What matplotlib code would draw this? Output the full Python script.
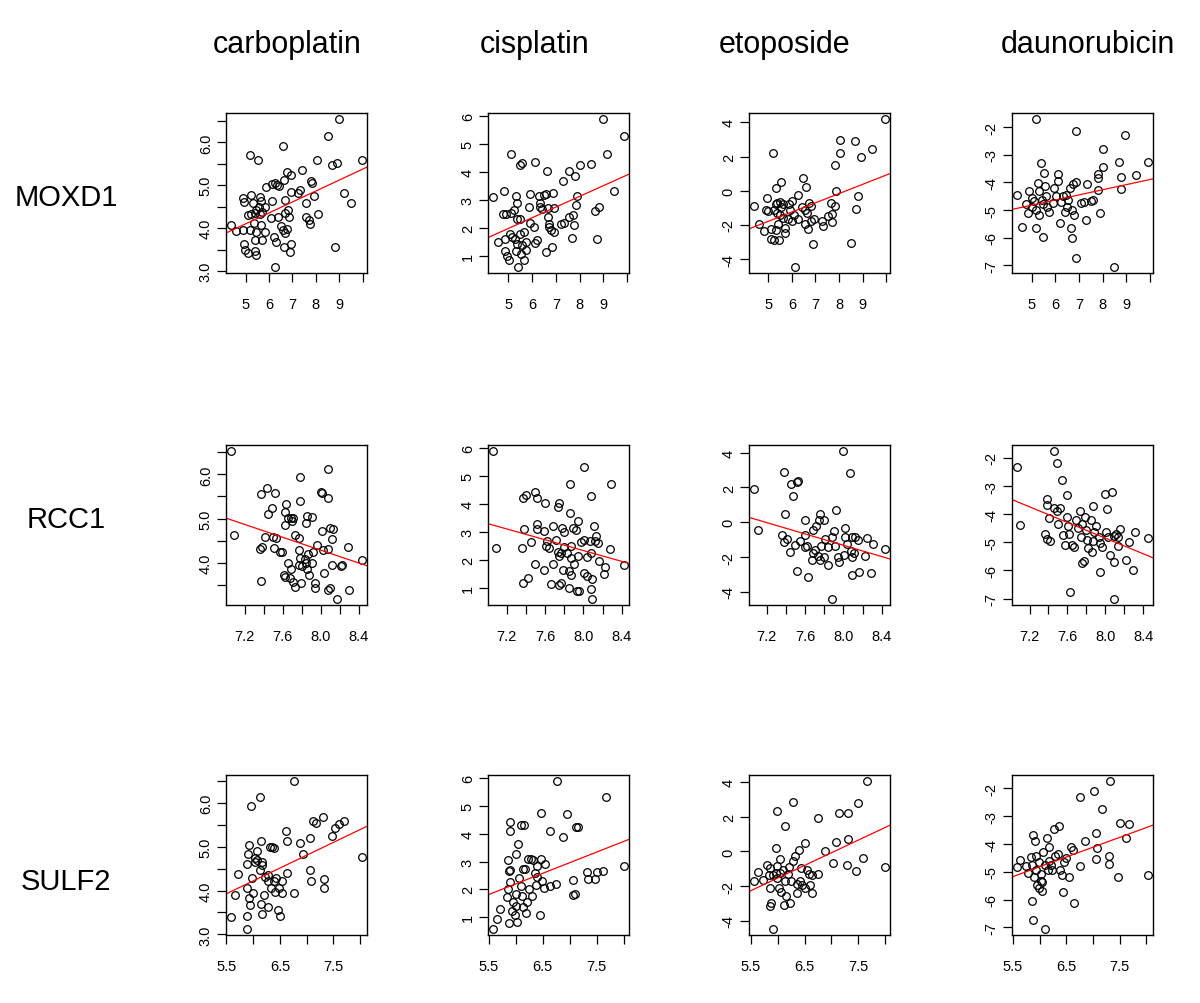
"""Scatter grid: gene expression (MOXD1, RCC1, SULF2) vs. drug sensitivity,
with the linear fit drawn in red, in the look of an R base-graphics figure.
"""

import matplotlib
matplotlib.use("Agg")
import matplotlib.pyplot as plt
import numpy as np

plt.rcParams["font.family"] = ["Liberation Sans", "DejaVu Sans"]

GENES = ["MOXD1", "RCC1", "SULF2"]
DRUGS = ["carboplatin", "cisplatin", "etoposide", "daunorubicin"]

# x ticks per gene row (label only where the picture shows one)
GENE_XTICKS = [[5, 6, 7, 8, 9, 10], [7.2, 7.4, 7.6, 7.8, 8.0, 8.2, 8.4],
               [5.5, 6.0, 6.5, 7.0, 7.5, 8.0]]
GENE_XLABELS = [["5", "6", "7", "8", "9", ""],
                ["7.2", "", "7.6", "", "8.0", "", "8.4"],
                ["5.5", "", "6.5", "", "7.5", ""]]
# y ticks per drug column
DRUG_YTICKS = [[3.0, 3.5, 4.0, 4.5, 5.0, 5.5, 6.0, 6.5], [1, 2, 3, 4, 5, 6],
               [-4, -2, 0, 2, 4], [-7, -6, -5, -4, -3, -2]]
DRUG_YLABELS = [["3.0", "", "4.0", "", "5.0", "", "6.0", ""],
                ["1", "2", "3", "4", "5", "6"],
                ["-4", "-2", "0", "2", "4"],
                ["-7", "-6", "-5", "-4", "-3", "-2"]]

# fitted lines (slope, intercept), rows = genes
FIT_SLOPE = [[0.256, 0.383, 0.543, 0.186],
             [-0.728, -0.966, -1.63, -1.39],
             [0.588, 0.765, 1.45, 0.705]]
FIT_ICPT = [[2.818, 0.06, -4.51, -5.75],
            [10.11, 10.06, 11.72, 6.27],
            [0.694, -2.39, -10.23, -9.05]]

# (x = expression, y = drug response)
moxd1_carboplatin = np.array([
    (4.39, 4.07), (4.6, 3.93), (4.89, 3.95), (5.2, 5.71), (5.53, 5.58),
    (6.6, 5.92), (8.53, 6.16), (8.99, 6.55), (8.07, 5.58), (8.89, 5.53),
    (8.7, 5.48), (9.96, 5.58), (7.39, 5.36), (6.79, 5.3), (6.93, 5.24),
    (7.81, 5.11), (7.84, 5.06), (5.89, 4.97), (6.13, 5.03), (6.24, 5.05),
    (6.36, 5.0), (6.43, 4.98), (6.64, 5.13), (6.67, 4.66), (6.96, 4.85),
    (7.31, 4.89), (7.24, 4.83), (7.93, 4.75), (7.6, 4.58), (8.1, 4.34),
    (7.56, 4.27), (7.7, 4.2), (7.74, 4.09), (9.21, 4.81), (9.5, 4.58),
    (8.81, 3.55), (6.24, 3.09), (4.89, 4.7), (4.93, 4.62), (5.24, 4.77),
    (5.31, 4.58), (5.6, 4.73), (5.64, 4.64), (5.56, 4.5), (5.81, 4.5),
    (6.13, 4.64), (5.1, 4.3), (5.24, 4.34), (5.39, 4.36), (5.46, 4.42),
    (5.6, 4.34), (5.7, 4.38), (6.07, 4.23), (6.39, 4.27), (6.67, 4.36),
    (6.81, 4.42), (6.84, 4.27), (5.36, 4.11), (5.67, 4.07), (5.21, 3.95),
    (5.46, 3.91), (5.81, 3.91), (5.39, 3.73), (5.7, 3.72), (6.21, 3.8),
    (6.31, 3.68), (6.53, 4.05), (6.61, 3.95), (6.7, 3.89), (6.79, 3.97),
    (6.96, 3.64), (6.89, 3.45), (6.64, 3.56), (4.93, 3.64), (4.99, 3.48),
    (5.1, 3.41), (5.39, 3.47), (5.46, 3.37)])

moxd1_cisplatin = np.array([
    (4.36, 3.09), (4.58, 1.49), (4.82, 3.33), (4.79, 2.49), (4.9, 2.51),
    (5.1, 2.54), (5.24, 2.63), (5.33, 3.14), (5.38, 2.9), (5.1, 4.65),
    (5.5, 4.26), (5.57, 4.32), (6.1, 4.34), (6.63, 4.05), (5.89, 3.2),
    (6.29, 3.12), (6.49, 3.18), (6.6, 3.21), (6.86, 3.24), (6.32, 2.88),
    (6.35, 2.75), (6.42, 2.66), (5.85, 2.73), (6.91, 2.69), (5.38, 2.33),
    (5.47, 2.3), (4.87, 1.61), (5.07, 1.77), (5.14, 1.67), (5.28, 1.58),
    (5.5, 1.79), (5.67, 1.85), (5.38, 1.43), (5.57, 1.37), (5.72, 1.49),
    (4.86, 1.17), (4.93, 0.98), (5.04, 0.86), (5.33, 1.17), (5.52, 1.05),
    (5.72, 1.19), (5.42, 0.59), (5.64, 0.86), (5.92, 2.18), (6.06, 2.03),
    (6.2, 1.55), (6.13, 1.46), (6.66, 2.69), (6.66, 2.37), (6.71, 2.15),
    (6.7, 2.01), (6.78, 1.91), (6.91, 1.85), (6.6, 1.13), (6.84, 1.31),
    (7.31, 3.66), (7.55, 4.05), (7.79, 3.86), (8.02, 4.26), (8.47, 4.29),
    (7.9, 3.12), (7.83, 2.81), (7.73, 2.45), (7.55, 2.39), (7.34, 2.18),
    (7.2, 2.13), (7.76, 2.09), (7.69, 1.65), (8.64, 2.61), (8.82, 2.75),
    (8.75, 1.59), (8.97, 5.9), (9.15, 4.65), (9.43, 3.3), (9.86, 5.3)])

moxd1_etoposide = np.array([
    (4.41, -0.9), (4.61, -1.96), (4.83, -2.35), (4.93, -0.45), (4.89, -1.14),
    (5.0, -1.18), (5.21, 2.2), (5.11, -2.22), (5.11, -2.8), (5.25, -2.9),
    (5.31, -0.75), (5.39, -0.71), (5.49, -0.65), (5.25, -1.14), (5.39, -1.29),
    (5.56, -0.94), (5.63, -0.75), (5.35, 0.14), (5.54, 0.53), (5.49, -1.43),
    (5.63, -1.57), (5.42, -1.92), (5.45, -2.9), (5.35, -2.31), (5.7, -2.16),
    (5.73, -2.47), (5.87, -0.75), (5.92, -1.14), (6.0, -0.59), (6.13, -4.47),
    (5.85, -1.63), (6.27, -0.25), (6.48, 0.73), (6.58, 0.2), (6.41, -0.94),
    (6.55, -1.14), (6.66, -1.29), (6.72, -0.71), (6.8, -0.9), (6.55, -1.96),
    (6.69, -2.22), (6.83, -1.76), (6.94, -1.63), (6.9, -3.14), (7.28, -1.76),
    (7.32, -2.08), (7.51, -1.49), (7.68, -1.37), (7.7, -1.82), (7.65, -0.71),
    (7.82, -0.9), (7.85, 0.0), (7.82, 1.51), (8.03, 2.98), (8.03, 2.2),
    (8.66, 2.88), (8.92, 2.0), (9.37, 2.45), (8.8, -0.31), (8.73, -1.08),
    (8.49, -3.06), (6.1, -1.43), (6.01, -1.76), (6.27, -1.63), (9.93, 4.2)])

moxd1_daunorubicin = np.array([
    (4.39, -4.44), (4.6, -5.6), (4.89, -4.32), (4.86, -5.11), (4.77, -4.77),
    (5.0, -4.56), (5.03, -4.87), (5.17, -1.7), (5.2, -5.66), (5.31, -4.32),
    (5.28, -4.01), (5.31, -5.17), (5.38, -3.28), (5.48, -5.96), (5.52, -3.65),
    (5.56, -4.11), (5.62, -4.5), (5.42, -4.62), (5.48, -4.77), (5.1, -4.68),
    (5.17, -4.99), (5.66, -4.87), (5.73, -5.05), (5.88, -4.74), (5.95, -4.2),
    (6.09, -3.71), (6.13, -3.95), (6.02, -4.5), (6.23, -4.72), (6.19, -5.45),
    (6.33, -4.5), (6.44, -4.44), (6.51, -4.87), (6.41, -5.05), (6.55, -4.65),
    (6.61, -4.2), (6.65, -5.66), (6.69, -6.02), (6.72, -4.99), (6.79, -5.17),
    (6.75, -4.04), (6.86, -2.12), (6.89, -3.99), (6.89, -6.73), (7.08, -4.74),
    (7.22, -4.72), (7.32, -4.07), (7.29, -5.35), (7.5, -4.68), (7.6, -4.65),
    (7.78, -4.26), (7.78, -3.83), (7.82, -3.71), (7.88, -5.11), (8.02, -3.43),
    (7.99, -2.77), (8.49, -7.06), (8.7, -3.26), (8.77, -3.79), (8.77, -4.23),
    (8.95, -2.28), (9.41, -3.74), (9.9, -3.26)])

rcc1_carboplatin = np.array([
    (7.06, 6.53), (7.09, 4.63), (7.37, 3.6), (7.36, 4.32), (7.38, 4.35),
    (7.41, 4.59), (7.37, 5.55), (7.44, 5.7), (7.52, 5.57), (7.45, 5.1),
    (7.49, 5.24), (7.5, 4.59), (7.53, 4.57), (7.51, 4.33), (7.57, 4.25),
    (7.59, 4.25), (7.62, 5.16), (7.64, 5.32), (7.66, 5.02), (7.69, 5.02),
    (7.7, 4.94), (7.71, 5.02), (7.62, 4.86), (7.61, 3.73), (7.62, 3.69),
    (7.66, 4.0), (7.68, 3.65), (7.71, 3.57), (7.73, 3.45), (7.69, 3.85),
    (7.78, 5.94), (7.78, 5.4), (7.77, 4.57), (7.73, 4.64), (7.77, 4.28),
    (7.78, 4.12), (7.77, 3.96), (7.8, 3.92), (7.79, 3.55), (7.83, 4.08),
    (7.84, 4.0), (7.84, 4.9), (7.85, 5.06), (7.91, 5.04), (7.87, 4.2),
    (7.86, 3.86), (7.88, 3.73), (7.92, 4.24), (7.91, 4.0), (7.94, 3.55),
    (7.94, 3.42), (7.96, 4.41), (8.01, 4.71), (8.02, 4.28), (8.03, 3.77),
    (8.0, 5.61), (8.01, 5.57), (8.08, 5.47), (8.08, 6.13), (8.1, 4.79),
    (8.13, 4.77), (8.12, 4.53), (8.08, 4.32), (8.08, 3.39), (8.1, 3.44),
    (8.12, 3.96), (8.17, 3.18), (8.21, 3.92), (8.22, 3.94), (8.29, 4.35),
    (8.3, 3.39), (8.43, 4.06)])

rcc1_cisplatin = np.array([
    (7.06, 5.89), (7.09, 2.41), (7.36, 2.41), (7.38, 3.1), (7.37, 4.22),
    (7.4, 4.31), (7.5, 4.41), (7.52, 4.22), (7.6, 4.02), (7.37, 1.17),
    (7.42, 1.36), (7.45, 2.65), (7.5, 1.85), (7.52, 3.29), (7.52, 3.1),
    (7.59, 1.65), (7.59, 3.02), (7.62, 2.69), (7.61, 2.5), (7.64, 2.41),
    (7.66, 1.14), (7.68, 3.22), (7.68, 1.85), (7.71, 2.71), (7.73, 2.29),
    (7.73, 3.9), (7.74, 1.12), (7.75, 4.02), (7.77, 1.17), (7.78, 3.14),
    (7.77, 2.23), (7.75, 2.14), (7.79, 1.65), (7.8, 2.98), (7.8, 2.47),
    (7.83, 2.23), (7.85, 1.6), (7.85, 1.0), (7.86, 4.71), (7.86, 3.66),
    (7.87, 2.5), (7.87, 2.05), (7.87, 1.45), (7.89, 3.14), (7.92, 3.05),
    (7.9, 1.87), (7.94, 3.38), (7.93, 0.88), (7.95, 0.88), (7.94, 2.14),
    (7.97, 2.65), (8.01, 5.31), (8.01, 2.71), (8.01, 1.53), (8.04, 1.41),
    (8.04, 2.11), (8.07, 2.69), (8.08, 4.28), (8.08, 2.26), (8.09, 1.33),
    (8.08, 0.96), (8.09, 0.6), (8.11, 3.22), (8.12, 2.69), (8.13, 2.84),
    (8.15, 2.59), (8.16, 1.97), (8.21, 1.51), (8.22, 1.75), (8.28, 2.38),
    (8.29, 4.71), (8.42, 1.81)])

rcc1_etoposide = np.array([
    (7.07, 1.94), (7.11, -0.43), (7.38, 2.91), (7.45, 2.19), (7.52, 2.29),
    (7.53, 2.39), (7.47, 1.51), (7.39, 0.49), (7.36, -0.72), (7.38, -1.11),
    (7.41, -0.97), (7.44, -1.69), (7.49, -1.3), (7.55, -1.05), (7.6, 0.12),
    (7.6, -0.72), (7.62, -1.36), (7.6, -1.44), (7.52, -2.8), (7.63, -3.15),
    (7.68, -0.47), (7.71, -0.23), (7.74, 0.16), (7.76, 0.5), (7.8, 0.16),
    (7.68, -1.75), (7.7, -1.59), (7.67, -2.14), (7.73, -1.94), (7.76, -2.17),
    (7.77, -1.36), (7.81, -0.97), (7.84, -1.4), (7.8, -2.02), (7.84, -2.47),
    (7.88, -4.41), (7.88, -0.82), (7.9, -0.52), (7.92, 0.7), (7.91, -1.36),
    (7.94, -2.02), (7.95, -2.27), (8.0, 4.1), (8.02, -0.33), (8.02, -0.85),
    (8.04, -1.24), (8.07, 2.83), (8.08, -1.63), (8.09, -0.82), (8.12, -0.85),
    (8.09, -1.98), (8.11, -1.79), (8.09, -3.05), (8.16, -2.85), (8.15, -1.01),
    (8.22, -1.94), (8.24, -0.91), (8.29, -2.91), (8.31, -1.24), (8.01, -1.88),
    (8.43, -1.55)])

rcc1_daunorubicin = np.array([
    (7.07, -2.33), (7.1, -4.39), (7.38, -3.46), (7.38, -3.66), (7.41, -4.15),
    (7.36, -4.69), (7.38, -4.88), (7.42, -4.94), (7.46, -1.75), (7.49, -2.17),
    (7.46, -3.78), (7.49, -3.87), (7.52, -3.78), (7.5, -4.35), (7.54, -2.78),
    (7.55, -4.75), (7.6, -3.33), (7.6, -4.09), (7.61, -4.43), (7.62, -4.69),
    (7.58, -5.08), (7.63, -6.78), (7.65, -5.08), (7.67, -5.18), (7.69, -4.21),
    (7.71, -4.48), (7.73, -3.87), (7.74, -4.82), (7.75, -4.35), (7.75, -5.73),
    (7.78, -5.67), (7.79, -4.11), (7.8, -4.57), (7.81, -4.91), (7.82, -5.2),
    (7.85, -4.21), (7.86, -5.36), (7.87, -3.7), (7.88, -4.63), (7.87, -4.94),
    (7.9, -4.43), (7.93, -4.82), (7.94, -5.03), (7.95, -6.05), (7.97, -5.16),
    (8.0, -3.3), (8.02, -3.82), (8.01, -4.63), (8.03, -4.82), (8.05, -5.45),
    (8.07, -3.21), (8.09, -5.69), (8.09, -4.79), (8.11, -4.69), (8.13, -4.82),
    (8.14, -5.12), (8.16, -4.51), (8.09, -7.02), (8.22, -5.64), (8.25, -5.0),
    (8.29, -6.0), (8.32, -4.63), (8.45, -4.84)])

sulf2_carboplatin = np.array([
    (5.59, 3.39), (5.66, 3.9), (5.71, 4.38), (5.88, 3.12), (5.88, 3.43),
    (5.91, 4.83), (5.92, 5.05), (5.89, 4.6), (5.88, 4.05), (5.92, 3.82),
    (5.94, 3.66), (5.96, 5.94), (5.97, 4.29), (6.0, 3.94), (6.03, 4.66),
    (6.04, 4.74), (6.08, 4.91), (6.08, 4.71), (6.13, 6.14), (6.14, 5.13),
    (6.13, 4.48), (6.16, 4.66), (6.17, 4.58), (6.14, 3.7), (6.17, 3.47),
    (6.21, 3.9), (6.22, 4.32), (6.27, 4.36), (6.28, 4.21), (6.31, 5.0),
    (6.36, 5.0), (6.39, 4.97), (6.27, 3.62), (6.33, 4.05), (6.39, 4.22),
    (6.42, 4.29), (6.41, 3.97), (6.46, 3.55), (6.5, 3.43), (6.48, 4.05),
    (6.53, 4.21), (6.54, 3.94), (6.61, 5.36), (6.64, 5.14), (6.64, 4.4),
    (6.76, 6.51), (6.77, 3.94), (6.88, 5.1), (6.94, 4.83), (7.06, 5.21),
    (7.06, 4.48), (7.08, 4.21), (7.11, 5.6), (7.17, 5.55), (7.31, 5.69),
    (7.33, 4.27), (7.33, 4.05), (7.47, 5.26), (7.53, 5.44), (7.61, 5.52),
    (7.69, 5.6), (8.03, 4.77)])

sulf2_cisplatin = np.array([
    (5.58, 0.57), (5.65, 0.94), (5.7, 1.31), (5.83, 1.72), (5.88, 0.79),
    (5.89, 4.43), (5.9, 4.1), (5.86, 3.07), (5.88, 2.67), (5.9, 2.7),
    (5.89, 2.27), (5.86, 2.02), (5.94, 1.53), (5.92, 1.22), (5.98, 1.06),
    (6.03, 0.81), (6.01, 1.41), (6.0, 1.84), (6.01, 3.26), (6.04, 3.65),
    (6.06, 2.4), (6.09, 2.12), (6.09, 4.31), (6.15, 4.31), (6.11, 1.75),
    (6.13, 1.35), (6.14, 2.74), (6.17, 2.74), (6.19, 1.16), (6.21, 1.53),
    (6.23, 3.11), (6.25, 2.02), (6.28, 3.11), (6.31, 3.07), (6.29, 1.75),
    (6.36, 2.58), (6.39, 2.46), (6.38, 2.17), (6.4, 2.86), (6.44, 1.06),
    (6.46, 4.74), (6.46, 3.11), (6.48, 2.3), (6.54, 2.91), (6.53, 2.05),
    (6.63, 2.12), (6.64, 4.1), (6.75, 2.21), (6.76, 5.91), (6.88, 3.9),
    (6.94, 4.72), (7.06, 2.33), (7.06, 1.8), (7.09, 1.84), (7.11, 4.25),
    (7.15, 4.25), (7.31, 2.62), (7.33, 2.37), (7.46, 2.37), (7.51, 2.62),
    (7.61, 2.67), (7.67, 5.33), (8.0, 2.83)])

sulf2_etoposide = np.array([
    (5.56, -1.69), (5.63, -1.18), (5.72, -1.63), (5.79, -0.78), (5.86, -0.98),
    (5.84, -1.37), (5.86, -2.12), (5.86, -3.14), (5.88, -2.94), (5.91, -4.47),
    (5.91, -1.33), (5.96, 0.2), (5.96, -1.24), (5.98, -0.84), (5.98, -1.53),
    (5.98, 2.35), (6.02, -2.12), (6.04, -0.45), (6.04, -1.24), (6.06, -2.31),
    (6.09, -1.04), (6.11, -3.06), (6.13, -1.73), (6.14, 1.45), (6.16, -2.55),
    (6.19, -1.29), (6.21, -0.9), (6.23, -2.94), (6.25, -1.73), (6.28, 2.84),
    (6.29, -0.55), (6.33, -0.25), (6.36, -1.88), (6.36, -2.41), (6.39, 0.08),
    (6.42, -1.69), (6.44, -0.94), (6.46, -1.92), (6.5, 0.47), (6.5, -2.12),
    (6.54, -1.04), (6.58, -1.29), (6.61, -1.92), (6.64, -2.41), (6.64, -1.37),
    (6.75, -1.29), (6.75, 1.9), (6.88, 0.04), (7.04, -0.65), (7.09, 0.53),
    (7.14, 2.2), (7.31, 2.2), (7.29, -0.78), (7.31, 0.73), (7.46, -1.1),
    (7.5, 2.78), (7.59, -0.35), (7.66, 4.06), (8.0, -0.9)])

sulf2_daunorubicin = np.array([
    (5.58, -4.83), (5.64, -4.59), (5.75, -4.79), (5.79, -5.04), (5.83, -4.47),
    (5.85, -4.76), (5.88, -3.69), (5.9, -5.2), (5.86, -6.06), (5.88, -6.75),
    (5.92, -3.88), (5.93, -4.43), (5.94, -4.92), (5.96, -5.49), (5.98, -5.57),
    (5.99, -4.63), (6.02, -5.08), (6.02, -5.32), (6.04, -5.69), (6.05, -5.37),
    (6.1, -7.06), (6.07, -4.27), (6.1, -4.76), (6.13, -3.78), (6.15, -4.92),
    (6.18, -4.61), (6.18, -4.12), (6.21, -4.76), (6.24, -4.95), (6.27, -3.45),
    (6.29, -4.43), (6.34, -4.37), (6.36, -3.36), (6.38, -4.92), (6.42, -5.13),
    (6.43, -5.71), (6.46, -4.63), (6.49, -4.51), (6.56, -5.2), (6.59, -4.12),
    (6.63, -4.22), (6.65, -6.11), (6.75, -2.31), (6.75, -4.79), (6.86, -3.88),
    (7.03, -2.1), (7.05, -3.61), (7.05, -4.55), (7.07, -4.14), (7.17, -2.75),
    (7.31, -4.43), (7.31, -4.71), (7.32, -1.73), (7.47, -5.2), (7.51, -3.24),
    (7.63, -3.78), (7.68, -3.29), (8.03, -5.13)])

PANELS = [
    [moxd1_carboplatin, moxd1_cisplatin, moxd1_etoposide, moxd1_daunorubicin],
    [rcc1_carboplatin, rcc1_cisplatin, rcc1_etoposide, rcc1_daunorubicin],
    [sulf2_carboplatin, sulf2_cisplatin, sulf2_etoposide, sulf2_daunorubicin],
]

W, H = 1200, 1004
COL_LEFT = [226, 488, 749, 1012]
ROW_TOP = [114, 446, 776]
BOX_W, BOX_H = 141, 160
TITLE_X = [287, 535, 785, 1088]
LABEL_Y = [198, 520, 882]


def padded(v):
    lo, hi = v.min(), v.max()
    pad = 0.04 * (hi - lo)
    return lo - pad, hi + pad


def main():
    fig = plt.figure(figsize=(W / 100, H / 100), dpi=100)

    for i in range(len(GENES)):
        for j in range(len(DRUGS)):
            pts = PANELS[i][j]
            ax = fig.add_axes([COL_LEFT[j] / W, 1 - (ROW_TOP[i] + BOX_H) / H,
                               BOX_W / W, BOX_H / H])
            ax.plot(pts[:, 0], pts[:, 1], "o", mfc="none", mec="black",
                    ms=5.5, mew=0.9)
            ax.axline((0, FIT_ICPT[i][j]), slope=FIT_SLOPE[i][j],
                      color="red", lw=0.9)
            ax.set_xticks(GENE_XTICKS[i])
            ax.set_xticklabels(GENE_XLABELS[i])
            ax.set_yticks(DRUG_YTICKS[j])
            ax.set_yticklabels(DRUG_YLABELS[j], rotation=90, va="center")
            ax.set_xlim(*padded(pts[:, 0]))
            ax.set_ylim(*padded(pts[:, 1]))
            ax.tick_params(direction="out", length=6.5, width=0.9,
                           labelsize=10.5)
            ax.tick_params(axis="x", pad=11)
            ax.tick_params(axis="y", pad=3)
            for sp in ax.spines.values():
                sp.set_linewidth(1.0)

    # column titles (drugs) and row labels (genes)
    for j, drug in enumerate(DRUGS):
        fig.text(TITLE_X[j] / W, 1 - 45 / H, drug, ha="center",
                 va="center", fontsize=22)
    for i, gene in enumerate(GENES):
        fig.text(66 / W, 1 - LABEL_Y[i] / H, gene, ha="center",
                 va="center", fontsize=21)

    fig.savefig("out.png", dpi=100)
    plt.close(fig)


if __name__ == "__main__":
    main()
